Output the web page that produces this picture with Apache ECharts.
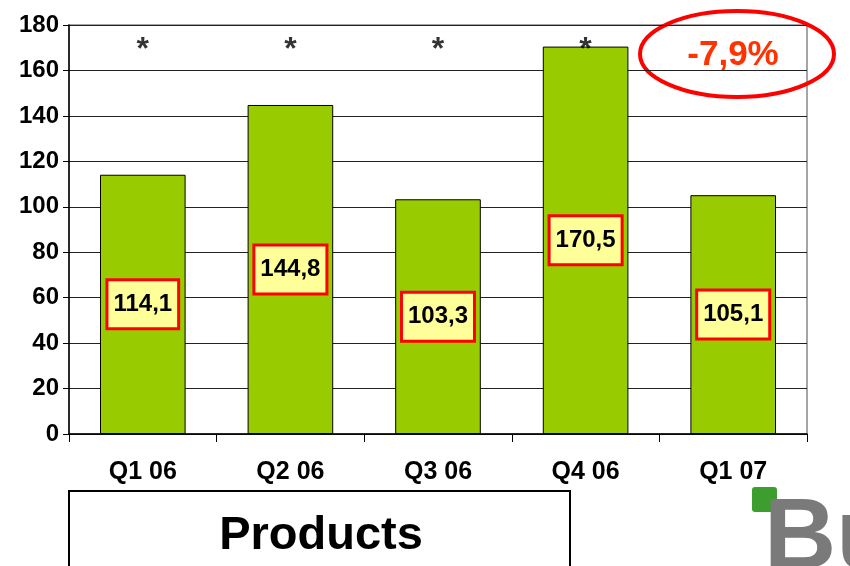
<!DOCTYPE html>
<html><head><meta charset="utf-8">
<script src="https://cdn.jsdelivr.net/npm/echarts@6/dist/echarts.min.js"></script>
<style>html,body{margin:0;padding:0;background:#fff}#c{width:850px;height:566px}</style>
</head><body><div id="c"></div>
<script>
const categories = ['Q1 06','Q2 06','Q3 06','Q4 06','Q1 07'];
const values = [114.1, 144.8, 103.3, 170.5, 105.1];
const starLevel = [169, 169, 169, 169, null];
const yTicks = {min: 0, max: 180, interval: 20};
const changeText = '-7,9%';
const boxTitle = 'Products';

const chart = echarts.init(document.getElementById('c'));
const F = '"Liberation Sans", Arial, sans-serif';
chart.setOption({
  animation: false,
  grid: {left: 69, right: 43, top: 25, bottom: 132, show: true, borderColor: '#888', borderWidth: 1.5, backgroundColor: 'transparent'},
  xAxis: {
    type: 'category', data: categories,
    axisLine: {lineStyle: {color: '#000', width: 1.5}},
    axisTick: {show: true, length: 8, lineStyle: {color: '#000', width: 1}},
    axisLabel: {color: '#000', fontFamily: F, fontWeight: 'bold', fontSize: 25, margin: 26}
  },
  yAxis: {
    type: 'value', min: yTicks.min, max: yTicks.max, interval: yTicks.interval,
    axisLine: {show: true, lineStyle: {color: '#000', width: 1.5}},
    axisTick: {show: true, length: 6, lineStyle: {color: '#000'}},
    splitLine: {lineStyle: {color: '#222', width: 1}},
    axisLabel: {color: '#000', fontFamily: F, fontWeight: 'bold', fontSize: 24, margin: 10}
  },
  series: [{
    type: 'bar', data: values, barWidth: '58%',
    itemStyle: {color: '#99CC00', borderColor: '#000', borderWidth: 1},
    label: {
      show: true, position: 'inside',
      formatter: p => String(p.value).replace('.', ','),
      color: '#000', fontFamily: F, fontWeight: 'bold', fontSize: 24,
      backgroundColor: '#FFFF99', borderColor: '#FF0000', borderWidth: 3,
      padding: [12, 5, 10, 5]
    }
  }, {
    type: 'scatter', data: starLevel, symbolSize: 1, itemStyle: {color: 'transparent'},
    label: {show: true, position: 'inside', formatter: '*', color: '#000', fontFamily: F, fontWeight: 'bold', fontSize: 32}
  }],
  graphic: [
    {type: 'ellipse', shape: {cx: 737, cy: 54, rx: 97, ry: 43}, style: {fill: 'none', stroke: '#FF0000', lineWidth: 4}},
    {type: 'text', x: 733, y: 55, style: {text: changeText, fill: '#FF3300', font: 'bold 35px ' + F, align: 'center', verticalAlign: 'middle'}},
    {type: 'rect', shape: {x: 69, y: 491, width: 501, height: 90}, style: {fill: '#fff', stroke: '#000', lineWidth: 2}},
    {type: 'text', x: 321, y: 536, style: {text: boxTitle, fill: '#000', font: 'bold 47px ' + F, align: 'center', verticalAlign: 'middle'}},
    {type: 'rect', shape: {x: 752, y: 487, width: 25, height: 25, r: 3}, style: {fill: '#3c9e2c'}},
    {type: 'text', x: 764, y: 490, style: {text: 'Bu', fill: '#7a7a7a', font: 'bold 100px ' + F, align: 'left', verticalAlign: 'top'}}
  ]
});
</script></body></html>
